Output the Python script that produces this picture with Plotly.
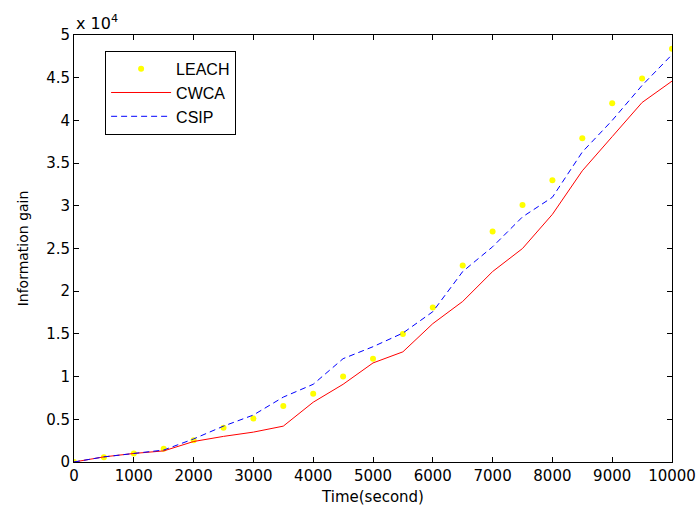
import plotly.graph_objects as go

time_s = [0, 500, 1000, 1500, 2000, 2500, 3000, 3500, 4000, 4500, 5000,
          5500, 6000, 6500, 7000, 7500, 8000, 8500, 9000, 9500, 10000]
leach = [0, 550, 1000, 1550, 2550, 4000, 5100, 6550, 8000, 10000, 12100,
         15000, 18100, 23000, 27000, 30100, 33000, 37900, 42000, 44900, 48400]
cwca = [0, 600, 1000, 1300, 2400, 3000, 3500, 4200, 7000, 9100, 11600,
        12900, 16200, 18800, 22300, 25000, 29000, 34100, 38100, 42100, 44600]
csip = [0, 600, 1000, 1400, 2700, 4200, 5500, 7600, 9100, 12100, 13500,
        15100, 17600, 22300, 25200, 28700, 31000, 36300, 40000, 44100, 47700]

y_ticks = [0, 5000, 10000, 15000, 20000, 25000, 30000, 35000, 40000, 45000, 50000]
y_tick_text = ["0", "0.5", "1", "1.5", "2", "2.5", "3", "3.5", "4", "4.5", "5"]
x_ticks = [0, 1000, 2000, 3000, 4000, 5000, 6000, 7000, 8000, 9000, 10000]
x_tick_text = ["0", "1000", "2000", "3000", "4000", "5000", "6000", "7000",
               "8000", "9000", "10000"]

tick_font = dict(family="DejaVu Sans, sans-serif", size=15, color="black")
xtitle_font = dict(family="DejaVu Sans, sans-serif", size=15, color="black")
ytitle_font = dict(family="DejaVu Sans, sans-serif", size=14, color="black")
legend_font = dict(family="Arial, Liberation Sans, sans-serif", size=16, color="black")

fig = go.Figure()
fig.add_trace(go.Scatter(x=time_s, y=leach, mode="markers", name="LEACH",
                         marker=dict(color="#FFFF00", size=6)))
fig.add_trace(go.Scatter(x=time_s, y=cwca, mode="lines", name="CWCA",
                         line=dict(color="#FF0000", width=1)))
fig.add_trace(go.Scatter(x=time_s, y=csip, mode="lines", name="CSIP",
                         line=dict(color="#0000FF", width=1, dash="6px,4px")))

axis_common = dict(showline=True, linecolor="black", linewidth=1, mirror="ticks",
                   ticks="inside", ticklen=5, tickcolor="black", showgrid=False,
                   zeroline=False, tickfont=tick_font, automargin=False)

fig.update_xaxes(range=[0, 10000], tickvals=x_ticks, ticktext=x_tick_text,
                 title=dict(text="Time(second)", font=xtitle_font, standoff=8),
                 **axis_common)
fig.update_yaxes(range=[0, 50000], tickvals=y_ticks, ticktext=y_tick_text,
                 title=dict(text="Information gain", font=ytitle_font, standoff=14),
                 **axis_common)

fig.add_annotation(text="x 10<sup>4</sup>", xref="paper", yref="paper", x=0.0, y=1.0,
                   xanchor="left", yanchor="bottom", showarrow=False,
                   font=dict(family="DejaVu Sans, sans-serif", size=16, color="black"),
                   yshift=0)

fig.update_layout(
    width=697, height=506,
    margin=dict(l=74, r=25, t=35, b=44),
    paper_bgcolor="white", plot_bgcolor="white",
    showlegend=True,
    legend=dict(x=0.052, y=0.963, xanchor="left", yanchor="top",
                bordercolor="black", borderwidth=1, bgcolor="white",
                font=legend_font, itemwidth=60, tracegroupgap=0),
)

fig.write_html("out.html")
